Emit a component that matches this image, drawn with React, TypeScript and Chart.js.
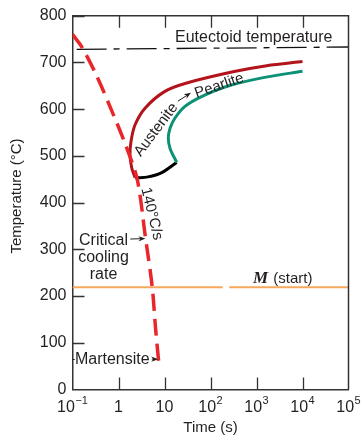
import { useEffect, useRef } from 'react';
import { Chart, registerables } from 'chart.js';
Chart.register(...registerables);

// Critical cooling curve (red dashed)
const coolingTime = [0.1, 0.16, 0.34, 0.65, 1.38, 2.55, 3.8, 5.4, 6.4, 7.6];
const coolingTemp = [760, 733, 670, 606, 527, 450, 330, 220, 130, 52];

// Austenite -> Pearlite start curve (dark red)
const startTime = [2.3, 1.94, 1.78, 1.87, 2.28, 3.77, 10.2, 30.4, 308, 1667, 10000];
const startTemp = [453, 474, 502, 531, 566, 602, 638, 656, 680, 693, 702];

// Finish curve (green)
const finishTime = [18.4, 13.2, 12.1, 13.2, 16.9, 27.9, 64, 250, 1500, 10000];
const finishTemp = [486, 516, 538, 559, 581, 606, 627, 650, 668, 681];

// Lower bound segment (black)
const lowerTime = [2.3, 4.4, 8.7, 18.4];
const lowerTemp = [453, 455, 464, 486];

// Eutectoid temperature (dash-dot)
const eutTime = [0.123, 100000];
const eutTemp = [728, 733];

// Martensite start line (with a small gap)
const msTime = [0.1, 185, 215, 255, 100000];
const msTemp: (number | null)[] = [219, 219, null, 219, 219];

// Axis ticks
const xTickValues = [0.1, 1, 10, 100, 1000, 10000, 100000];
const xTickBase = ['10', '1', '10', '10', '10', '10', '10'];
const xTickExp = ['\u22121', '', '', '2', '3', '4', '5'];
const yMin = 0;
const yMax = 800;
const yStep = 100;

const SANS = '"Liberation Sans", Arial, sans-serif';
const TXT = '#231f20';

function pts(xs: number[], ys: (number | null)[]) {
  return xs.map((x, i) => ({ x, y: ys[i] }));
}

function arrow(ctx: CanvasRenderingContext2D, x1: number, y1: number, x2: number, y2: number) {
  const a = Math.atan2(y2 - y1, x2 - x1);
  ctx.save();
  ctx.strokeStyle = TXT;
  ctx.fillStyle = TXT;
  ctx.lineWidth = 1;
  ctx.beginPath();
  ctx.moveTo(x1, y1);
  ctx.lineTo(x2 - Math.cos(a) * 3, y2 - Math.sin(a) * 3);
  ctx.stroke();
  const L = 7, W = 2.6;
  ctx.beginPath();
  ctx.moveTo(x2, y2);
  ctx.lineTo(x2 - L * Math.cos(a) + W * Math.sin(a), y2 - L * Math.sin(a) - W * Math.cos(a));
  ctx.lineTo(x2 - L * 0.7 * Math.cos(a), y2 - L * 0.7 * Math.sin(a));
  ctx.lineTo(x2 - L * Math.cos(a) - W * Math.sin(a), y2 - L * Math.sin(a) + W * Math.cos(a));
  ctx.closePath();
  ctx.fill();
  ctx.restore();
}

const decorPlugin = {
  id: 'decor',
  afterDraw(chart: any) {
    const ctx: CanvasRenderingContext2D = chart.ctx;
    const xs = chart.scales.x;
    const ys = chart.scales.y;
    const area = chart.chartArea;
    const X = (v: number) => xs.getPixelForValue(v);
    const Y = (v: number) => ys.getPixelForValue(v);

    ctx.save();
    // frame top & right
    ctx.strokeStyle = '#333';
    ctx.lineWidth = 1.5;
    ctx.beginPath();
    ctx.moveTo(area.left, area.top);
    ctx.lineTo(area.right, area.top);
    ctx.lineTo(area.right, area.bottom);
    ctx.stroke();

    // inner ticks
    ctx.lineWidth = 1.3;
    ctx.beginPath();
    for (let i = 1; i < xTickValues.length - 1; i++) {
      const px = Math.round(X(xTickValues[i])) + 0.5;
      ctx.moveTo(px, area.bottom);
      ctx.lineTo(px, area.bottom - 12);
      ctx.moveTo(px, area.top);
      ctx.lineTo(px, area.top + 12);
    }
    for (let v = yMin + yStep; v <= yMax; v += yStep) {
      const py = Math.round(Y(v)) + 0.5;
      ctx.moveTo(area.left, py);
      ctx.lineTo(area.left + 12, py);
    }
    ctx.stroke();

    // x tick labels with superscripts
    ctx.fillStyle = TXT;
    ctx.textBaseline = 'alphabetic';
    ctx.textAlign = 'left';
    for (let i = 0; i < xTickValues.length; i++) {
      const base = xTickBase[i];
      const exp = xTickExp[i];
      ctx.font = `16px ${SANS}`;
      const w1 = ctx.measureText(base).width;
      ctx.font = `11px ${SANS}`;
      const w2 = exp ? ctx.measureText(exp).width + 0.5 : 0;
      const cx = X(xTickValues[i]);
      const sx = cx - (w1 + w2) / 2;
      ctx.font = `16px ${SANS}`;
      ctx.fillText(base, sx, area.bottom + 22);
      if (exp) {
        ctx.font = `11px ${SANS}`;
        ctx.fillText(exp, sx + w1 + 0.5, area.bottom + 14);
      }
    }

    // axis titles
    ctx.font = `15px ${SANS}`;
    ctx.textAlign = 'center';
    ctx.fillText('Time (s)', (area.left + area.right) / 2, area.bottom + 42);
    ctx.save();
    ctx.translate(21, 196);
    ctx.rotate(-Math.PI / 2);
    ctx.fillText('Temperature (\u00B0C)', 0, 0);
    ctx.restore();

    // annotations
    ctx.font = `16px ${SANS}`;
    ctx.textAlign = 'left';
    ctx.fillText('Eutectoid temperature', X(16.9), Y(744));

    // Austenite -> Pearlite
    ctx.font = `15px ${SANS}`;
    ctx.textAlign = 'center';
    ctx.textBaseline = 'middle';
    ctx.save();
    ctx.translate(X(6.6), Y(556));
    ctx.rotate((-53 * Math.PI) / 180);
    ctx.fillText('Austenite', 0, 0);
    ctx.restore();
    arrow(ctx, X(19.5), Y(617), X(37.7), Y(635));
    ctx.save();
    ctx.translate(X(155), Y(650));
    ctx.rotate((-19 * Math.PI) / 180);
    ctx.fillText('Pearlite', 0, 0);
    ctx.restore();

    // 140 C/s
    ctx.save();
    ctx.translate(X(5.27), Y(376));
    ctx.rotate((76 * Math.PI) / 180);
    ctx.fillText('140\u00B0C/s', 0, 0);
    ctx.restore();

    // Critical cooling rate
    ctx.font = `16px ${SANS}`;
    ctx.textBaseline = 'alphabetic';
    const cx = X(0.472);
    const cy = Y(309);
    ctx.fillText('Critical', cx, cy);
    ctx.fillText('cooling', cx, cy + 17);
    ctx.fillText('rate', cx, cy + 34);
    arrow(ctx, X(1.8), Y(322), X(3.85), Y(323));

    // Martensite
    ctx.textAlign = 'left';
    ctx.textBaseline = 'middle';
    ctx.fillText('Martensite', X(0.113), Y(65));
    ctx.strokeStyle = TXT;
    ctx.lineWidth = 1;
    ctx.beginPath();
    ctx.moveTo(area.left, Math.round(Y(65)) + 0.5);
    ctx.lineTo(X(0.112), Math.round(Y(65)) + 0.5);
    ctx.stroke();
    arrow(ctx, X(5.3), Y(65), X(7.3), Y(65));

    // M (start)
    ctx.textBaseline = 'alphabetic';
    const mx = X(840);
    const my = Y(228);
    ctx.font = `italic bold 17px "Liberation Serif", "Times New Roman", serif`;
    ctx.fillText('M', mx, my);
    const mw = ctx.measureText('M').width;
    ctx.font = `15px ${SANS}`;
    ctx.fillText(' (start)', mx + mw + 1, my);

    ctx.restore();
  },
};

export default function App() {
  const ref = useRef<HTMLCanvasElement>(null);
  useEffect(() => {
    document.body.style.margin = '0';
    const canvas = ref.current!;
    const line = (data: any[], color: string, width: number, extra: any = {}) => ({
      data,
      showLine: true,
      borderColor: color,
      backgroundColor: color,
      borderWidth: width,
      pointRadius: 0,
      pointHoverRadius: 0,
      fill: false,
      ...extra,
    });
    const chart = new Chart(canvas, {
      type: 'scatter',
      data: {
        datasets: [
          line(pts(coolingTime, coolingTemp), '#e8262b', 3.5, { borderDash: [17, 8], tension: 0.3 }),
          line(pts(startTime, startTemp), '#b3131b', 3, { tension: 0.3 }),
          line(pts(finishTime, finishTemp), '#0b9275', 3, { tension: 0.3 }),
          line(pts(lowerTime, lowerTemp), '#000000', 3, { tension: 0.3 }),
          line(pts(eutTime, eutTemp), '#111111', 1.3, { borderDash: [30, 7, 6, 7] }),
          line(pts(msTime, msTemp), '#f6a85c', 2, { spanGaps: false }),
        ],
      } as any,
      options: {
        responsive: false,
        animation: false,
        devicePixelRatio: 1,
        layout: { padding: { top: 15.7, right: 13.5, left: 0, bottom: 0 } },
        plugins: { legend: { display: false }, tooltip: { enabled: false } },
        scales: {
          x: {
            type: 'logarithmic',
            min: 0.1,
            max: 100000,
            ticks: { display: false },
            grid: { display: false, drawTicks: false },
            border: { display: true, color: '#333', width: 1.5 },
            afterFit(s: any) {
              s.height = 46.5;
            },
          },
          y: {
            type: 'linear',
            min: yMin,
            max: yMax,
            ticks: {
              stepSize: yStep,
              font: { family: SANS, size: 16 },
              color: TXT,
              padding: 6,
            },
            grid: { display: false, drawTicks: false },
            border: { display: true, color: '#333', width: 1.5 },
            afterFit(s: any) {
              s.width = 72.5;
            },
          },
        },
      } as any,
      plugins: [decorPlugin],
    });
    return () => chart.destroy();
  }, []);
  return (
    <canvas ref={ref} width={362} height={436} style={{ display: 'block', width: 362, height: 436 }} />
  );
}
